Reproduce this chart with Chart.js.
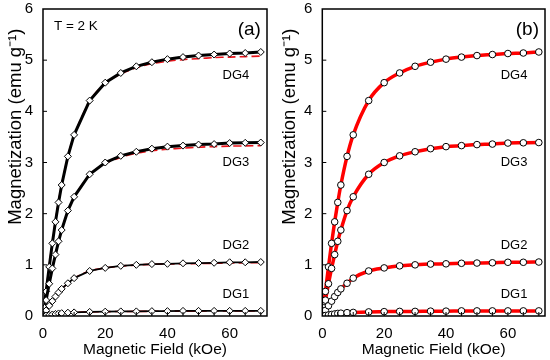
<!DOCTYPE html>
<html>
<head>
<meta charset="utf-8">
<script src="https://cdn.jsdelivr.net/npm/chart.js@4/dist/chart.umd.min.js"></script>
<style>
  body { margin: 0; background: #fff; width: 550px; height: 360px; overflow: hidden; position: relative; }
  .panel { position: absolute; top: 0; height: 360px; }
  #pa { left: 0; width: 272px; }
  #pb { left: 276px; width: 274px; }
</style>
</head>
<body>
<div class="panel" id="pa"><canvas id="chartA"></canvas></div>
<div class="panel" id="pb"><canvas id="chartB"></canvas></div>
<script>
// field steps (kOe)
const field = [0, 0.5, 1, 2, 3, 4, 5, 6, 8, 10, 15, 20, 25, 30, 35, 40, 45, 50, 55, 60, 65, 70];

// measured magnetization (emu/g)
const dg4 = [0, 0.25, 0.48, 0.96, 1.42, 1.84, 2.22, 2.56, 3.12, 3.54, 4.21, 4.56, 4.75, 4.88, 4.96, 5.02, 5.06, 5.09, 5.11, 5.13, 5.14, 5.16];
const dg3 = [0, 0.16, 0.31, 0.63, 0.93, 1.2, 1.46, 1.68, 2.06, 2.33, 2.77, 3.0, 3.13, 3.21, 3.27, 3.31, 3.33, 3.35, 3.36, 3.38, 3.385, 3.39];
const dg2 = [0, 0.05, 0.11, 0.2, 0.29, 0.38, 0.46, 0.53, 0.64, 0.74, 0.88, 0.94, 0.98, 1.0, 1.015, 1.02, 1.03, 1.035, 1.04, 1.05, 1.05, 1.055];
const dg1 = [0, 0.005, 0.01, 0.02, 0.03, 0.04, 0.05, 0.055, 0.065, 0.07, 0.08, 0.085, 0.09, 0.09, 0.095, 0.095, 0.1, 0.1, 0.1, 0.1, 0.1, 0.1];

// fit curves in panel (a), red dashed
const fitA4 = [0, 0.26, 0.5, 0.98, 1.44, 1.86, 2.24, 2.57, 3.12, 3.53, 4.2, 4.55, 4.73, 4.85, 4.93, 4.98, 5.01, 5.03, 5.05, 5.06, 5.07, 5.08];
const fitA3 = [0, 0.16, 0.32, 0.64, 0.94, 1.21, 1.46, 1.68, 2.05, 2.32, 2.76, 2.98, 3.1, 3.18, 3.23, 3.26, 3.28, 3.3, 3.31, 3.32, 3.325, 3.33];
const fitA2 = [0, 0.05, 0.11, 0.2, 0.29, 0.38, 0.46, 0.53, 0.64, 0.74, 0.88, 0.94, 0.975, 0.995, 1.01, 1.015, 1.02, 1.025, 1.03, 1.035, 1.04, 1.04];
const fitA1 = [0, 0.005, 0.01, 0.02, 0.03, 0.04, 0.05, 0.055, 0.065, 0.07, 0.08, 0.085, 0.088, 0.09, 0.092, 0.094, 0.095, 0.096, 0.097, 0.098, 0.098, 0.098];

const seriesNames = ["DG1", "DG2", "DG3", "DG4"];
const seriesLabelY = [0.43, 1.37, 3.0, 4.7];
const xTicks = [0, 20, 40, 60];
const yTicks = [0, 1, 2, 3, 4, 5, 6];
const yTitle = "Magnetization (emu g\u207B\u00B9)";

const pts = (ys) => ys.map((y, i) => ({ x: field[i], y: y }));

// frame, inside ticks, y title and text labels
const framePlugin = {
  id: "frame",
  afterDraw(chart, args, opts) {
    const { ctx, chartArea: a, scales } = chart;
    ctx.save();
    ctx.strokeStyle = "#000";
    ctx.lineWidth = 1.5;
    ctx.strokeRect(a.left, a.top, a.right - a.left, a.bottom - a.top);
    ctx.lineWidth = 1;
    ctx.beginPath();
    for (let v = 5; v < 72; v += 5) {
      const px = scales.x.getPixelForValue(v);
      ctx.moveTo(px, a.bottom); ctx.lineTo(px, a.bottom - 4);
    }
    yTicks.slice(1, -1).forEach((v) => {
      const py = scales.y.getPixelForValue(v);
      ctx.moveTo(a.left, py); ctx.lineTo(a.left + 4, py);
    });
    ctx.stroke();

    ctx.fillStyle = "#000";
    ctx.textAlign = "center";
    ctx.textBaseline = "middle";

    // y title, sits a bit above the middle like the source figure
    ctx.save();
    ctx.translate(scales.y.left + opts.titleX, scales.y.getPixelForValue(3.7));
    ctx.rotate(-Math.PI / 2);
    ctx.font = "18.5px 'Liberation Sans', Arial, sans-serif";
    ctx.fillText(yTitle, 0, 0);
    ctx.restore();

    ctx.font = "13px 'Liberation Sans', Arial, sans-serif";
    seriesNames.forEach((n, i) => {
      ctx.fillText(n, scales.x.getPixelForValue(62), scales.y.getPixelForValue(seriesLabelY[i]));
    });
    ctx.font = "19px 'Liberation Sans', Arial, sans-serif";
    ctx.fillText(opts.tag, scales.x.getPixelForValue(66.3), scales.y.getPixelForValue(5.6));
    if (opts.temp) {
      ctx.textAlign = "left";
      ctx.font = "13.5px 'Liberation Sans', Arial, sans-serif";
      ctx.fillText(opts.temp, scales.x.getPixelForValue(3.5), scales.y.getPixelForValue(5.66));
    }
    ctx.restore();
  },
};

function baseOptions(yWidth, padRight, tag, temp, titleX) {
  return {
    responsive: true,
    maintainAspectRatio: false,
    animation: false,
    layout: { padding: { top: 9, right: padRight, bottom: 0, left: 0 } },
    plugins: {
      legend: { display: false },
      tooltip: { enabled: false },
      frame: { tag: tag, temp: temp, titleX: titleX },
    },
    scales: {
      x: {
        type: "linear",
        min: 0,
        max: 72,
        grid: { display: false, drawTicks: false },
        border: { display: false },
        afterBuildTicks: (s) => { s.ticks = xTicks.map((v) => ({ value: v })); },
        afterFit: (s) => { s.height = 44; s.paddingLeft = 0; s.paddingRight = 0; },
        ticks: { color: "#000", padding: 9, maxRotation: 0, font: { size: 15, family: "'Liberation Sans', Arial" } },
        title: {
          display: true,
          text: "Magnetic Field (kOe)",
          color: "#000",
          font: { size: 15.5, family: "'Liberation Sans', Arial" },
          padding: { top: 0, bottom: 1 },
        },
      },
      y: {
        min: 0,
        max: 6,
        grid: { display: false, drawTicks: false },
        border: { display: false },
        afterBuildTicks: (s) => { s.ticks = yTicks.map((v) => ({ value: v })); },
        afterFit: (s) => { s.width = yWidth; s.paddingTop = 0; s.paddingBottom = 0; },
        ticks: { color: "#000", padding: 10, font: { size: 15, family: "'Liberation Sans', Arial" } },
        title: { display: false },
      },
    },
  };
}

// panel (a): black lines with diamonds, red dashed fits underneath
const dataA = [dg1, dg2, dg3, dg4];
const fitsA = [fitA1, fitA2, fitA3, fitA4];
const setsA = [];
dataA.forEach((d, i) => {
  setsA.push({
    data: pts(d),
    borderColor: "#000",
    borderWidth: i >= 2 ? 3 : 1.8,
    tension: 0,
    pointStyle: "rectRot",
    pointRadius: 3.5,
    pointBackgroundColor: "#fff",
    pointBorderColor: "#000",
    pointBorderWidth: 1,
    order: 1,
  });
  setsA.push({
    data: pts(fitsA[i]),
    borderColor: "#e8141b",
    borderWidth: 1.6,
    borderDash: [8, 4],
    tension: 0.3,
    pointRadius: 0,
    order: 2,
  });
});

new Chart(document.getElementById("chartA"), {
  type: "line",
  data: { datasets: setsA },
  options: baseOptions(43, 4.7, "(a)", "T = 2 K", 16),
  plugins: [framePlugin],
});

// panel (b): red smooth fits with open circles
const setsB = [];
dataA.forEach((d) => {
  setsB.push({
    data: pts(d),
    borderColor: "#ff0000",
    borderWidth: 3.5,
    cubicInterpolationMode: "monotone",
    pointRadius: 0,
    order: 2,
  });
  setsB.push({
    data: pts(d),
    showLine: false,
    pointStyle: "circle",
    pointRadius: 3.3,
    pointBackgroundColor: "#fff",
    pointBorderColor: "#000",
    pointBorderWidth: 1,
    order: 1,
  });
});

new Chart(document.getElementById("chartB"), {
  type: "line",
  data: { datasets: setsB },
  options: baseOptions(46.3, 3.3, "(b)", null, 14),
  plugins: [framePlugin],
});
</script>
</body>
</html>
